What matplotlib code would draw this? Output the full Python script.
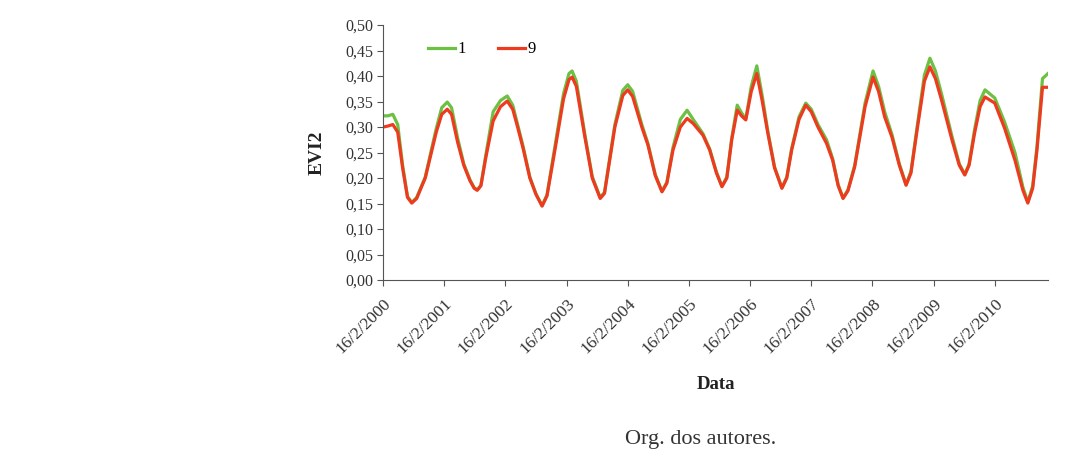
import matplotlib.pyplot as plt
import numpy as np

plt.rcParams['font.family'] = ['Liberation Serif', 'DejaVu Serif']

# time in years after 16/2/2000
t = [0.00, 0.08, 0.16, 0.24, 0.32, 0.40, 0.47, 0.55, 0.62, 0.69, 0.78, 0.87, 0.96,
     1.05, 1.12, 1.22, 1.32, 1.42, 1.49, 1.54, 1.60, 1.68, 1.80, 1.92,
     2.03, 2.12, 2.20, 2.29, 2.40, 2.50, 2.60, 2.68, 2.81, 2.95,
     3.04, 3.09, 3.16, 3.30, 3.42, 3.55, 3.62, 3.79, 3.92,
     4.00, 4.08, 4.23, 4.33, 4.45, 4.56, 4.64, 4.74, 4.86, 4.97,
     5.07, 5.23, 5.34, 5.45, 5.54, 5.62, 5.70, 5.79, 5.86, 5.93,
     6.02, 6.11, 6.20, 6.29, 6.40, 6.52, 6.60, 6.68, 6.80, 6.91,
     7.00, 7.11, 7.25, 7.35, 7.44, 7.52, 7.60, 7.71, 7.88,
     8.01, 8.10, 8.20, 8.32, 8.44, 8.55, 8.63, 8.73, 8.85, 8.94,
     9.03, 9.13, 9.30, 9.42, 9.51, 9.58, 9.67, 9.76, 9.84,
     10.00, 10.16, 10.33, 10.46, 10.54, 10.62, 10.69, 10.78, 10.87]

evi_9 = [0.300, 0.302, 0.305, 0.290, 0.220, 0.162, 0.151, 0.160, 0.180, 0.200, 0.245, 0.290, 0.325,
         0.335, 0.325, 0.270, 0.225, 0.195, 0.180, 0.176, 0.185, 0.240, 0.312, 0.340,
         0.351, 0.335, 0.300, 0.258, 0.200, 0.168, 0.145, 0.165, 0.255, 0.355,
         0.393, 0.398, 0.380, 0.280, 0.200, 0.160, 0.170, 0.300, 0.362,
         0.373, 0.360, 0.300, 0.265, 0.205, 0.173, 0.190, 0.255, 0.300, 0.317,
         0.307, 0.284, 0.255, 0.210, 0.183, 0.200, 0.275, 0.333, 0.322, 0.314,
         0.370, 0.405, 0.350, 0.288, 0.220, 0.180, 0.200, 0.255, 0.315, 0.343,
         0.330, 0.300, 0.268, 0.235, 0.185, 0.160, 0.175, 0.222, 0.340,
         0.398, 0.370, 0.320, 0.280, 0.225, 0.186, 0.210, 0.294, 0.390, 0.418,
         0.395, 0.353, 0.275, 0.225, 0.206, 0.225, 0.288, 0.340, 0.359,
         0.347, 0.298, 0.235, 0.176, 0.151, 0.180, 0.255, 0.378, 0.378]

evi_1 = [0.322, 0.322, 0.325, 0.305, 0.225, 0.164, 0.152, 0.162, 0.182, 0.202, 0.250, 0.297, 0.338,
         0.349, 0.338, 0.278, 0.228, 0.197, 0.181, 0.177, 0.186, 0.245, 0.330, 0.352,
         0.361, 0.343, 0.305, 0.262, 0.202, 0.169, 0.146, 0.167, 0.262, 0.365,
         0.405, 0.410, 0.390, 0.285, 0.203, 0.162, 0.172, 0.305, 0.372,
         0.383, 0.370, 0.305, 0.268, 0.207, 0.174, 0.192, 0.260, 0.315, 0.333,
         0.315, 0.287, 0.257, 0.212, 0.184, 0.202, 0.278, 0.343, 0.328, 0.316,
         0.380, 0.420, 0.360, 0.292, 0.222, 0.181, 0.202, 0.258, 0.320, 0.347,
         0.335, 0.305, 0.275, 0.238, 0.187, 0.161, 0.177, 0.225, 0.347,
         0.410, 0.380, 0.330, 0.285, 0.228, 0.187, 0.213, 0.300, 0.402, 0.435,
         0.410, 0.365, 0.282, 0.228, 0.207, 0.228, 0.295, 0.352, 0.373,
         0.357, 0.310, 0.250, 0.182, 0.153, 0.185, 0.262, 0.395, 0.405]

tick_labels = ['16/2/%d' % y for y in range(2000, 2011)]
y_ticks = np.arange(0, 0.501, 0.05)

fig = plt.figure(figsize=(10.86, 4.66), dpi=100)
ax = fig.add_axes([0.3527, 0.399, 0.6123, 0.5472])

ax.plot(t, evi_1, color='#6cc043', lw=2.3, label='1', solid_joinstyle='round')
ax.plot(t, evi_9, color='#ee3a1e', lw=2.3, label='9', solid_joinstyle='round')

ax.set_xlim(0, 10.87)
ax.set_ylim(0, 0.5)
ax.set_yticks(y_ticks)
ax.set_yticklabels([('%.2f' % v).replace('.', ',') for v in y_ticks])
ax.set_xticks(range(11))
ax.set_xticklabels(tick_labels, rotation=45, ha='right', va='top', rotation_mode='anchor')

for s in ['top', 'right']:
    ax.spines[s].set_visible(False)
for s in ['left', 'bottom']:
    ax.spines[s].set_color('#555555')
ax.tick_params(axis='both', colors='#555555', labelcolor='#333333', length=4)
ax.tick_params(axis='y', pad=3, labelsize=11.5)
ax.tick_params(axis='x', pad=7, labelsize=12.5)

ax.set_ylabel('EVI2', fontweight='bold', fontsize=14, color='#222222', labelpad=14)
ax.set_xlabel('Data', fontweight='bold', fontsize=13.5, color='#222222', labelpad=14)

ax.legend(loc='upper left', bbox_to_anchor=(0.045, 0.995), ncol=2, frameon=False,
          fontsize=12, handlelength=1.6, handletextpad=0.2, columnspacing=1.9)

fig.text(0.645, 0.048, 'Org. dos autores.', fontsize=16, color='#333333', ha='center')

fig.savefig('out.png')
